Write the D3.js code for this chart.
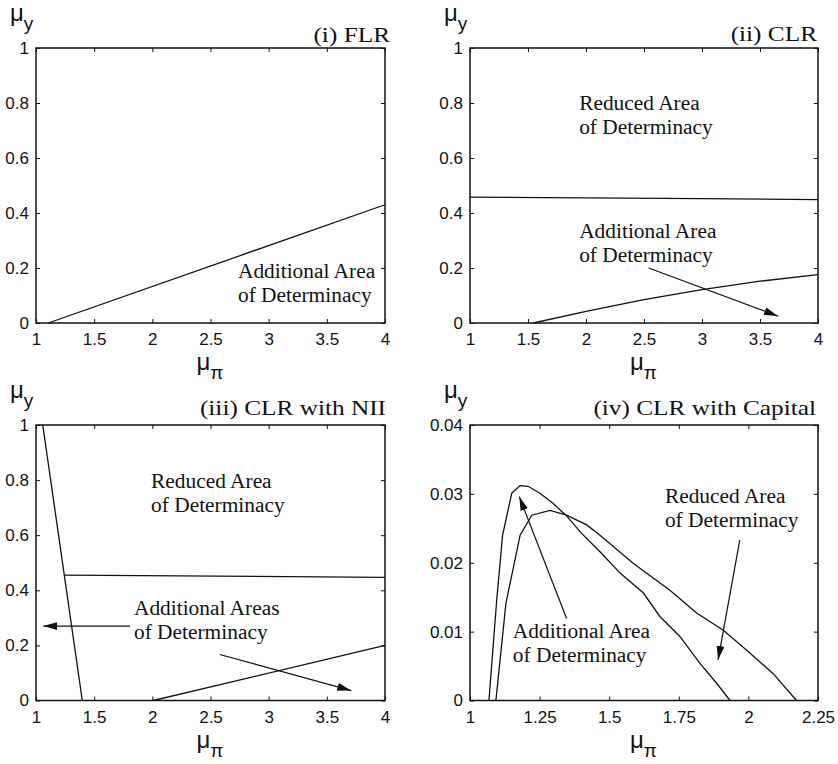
<!DOCTYPE html>
<html>
<head>
<meta charset="utf-8">
<script src="https://d3js.org/d3.v7.min.js"></script>
<style>
  body { margin: 0; background: #fff; }
  .tick text { font-family: "Liberation Sans", Arial, sans-serif; font-size: 17px; fill: #111; }
  .tick line { stroke: #111; stroke-width: 1; }
  .serif { font-family: "Liberation Serif", "Times New Roman", serif; fill: #111; }
  .sym { font-family: "Liberation Sans", Arial, sans-serif; fill: #111; }
</style>
</head>
<body>
<div id="chart"></div>
<script>
// ticks
var xTicksMain = [1, 1.5, 2, 2.5, 3, 3.5, 4];
var yTicksMain = [0, 0.2, 0.4, 0.6, 0.8, 1];
var xTicksCap = [1, 1.25, 1.5, 1.75, 2, 2.25];
var yTicksCap = [0, 0.01, 0.02, 0.03, 0.04];

// (i) FLR boundary
var flrLine = [[1.106, 0], [4, 0.43]];

// (ii) CLR boundaries
var clrUpper = [[1, 0.458], [2, 0.455], [3, 0.452], [4, 0.449]];
var clrLower = [[1.545, 0], [2, 0.042], [2.5, 0.085], [3, 0.121], [3.5, 0.152], [4, 0.176]];

// (iii) CLR with NII boundaries
var niiSteep = [[1.058, 1], [1.398, 0]];
var niiUpper = [[1.24, 0.455], [4, 0.447]];
var niiLower = [[2.008, 0], [4, 0.2]];

// (iv) CLR with Capital boundaries
var capOuter = [[1.068, 0], [1.096, 0.0146], [1.117, 0.024], [1.15, 0.0301], [1.18, 0.0312],
  [1.209, 0.0311], [1.251, 0.0301], [1.299, 0.0286], [1.347, 0.0268], [1.40, 0.0243],
  [1.467, 0.0216], [1.539, 0.0185], [1.623, 0.0156], [1.682, 0.0122], [1.754, 0.0093],
  [1.826, 0.0054], [1.886, 0.0025], [1.934, 0]];
var capInner = [[1.093, 0], [1.129, 0.0141], [1.18, 0.024], [1.222, 0.0269], [1.287, 0.0276],
  [1.347, 0.0269], [1.419, 0.0255], [1.467, 0.024], [1.587, 0.0199], [1.718, 0.016],
  [1.814, 0.0127], [1.91, 0.0102], [1.994, 0.0073], [2.089, 0.0039], [2.173, 0]];

// arrows [x1, y1, x2, y2]
var clrArrows = [[2.54, 0.20, 3.655, 0.025]];
var niiArrows = [[1.808, 0.27, 1.063, 0.27], [2.58, 0.167, 3.71, 0.036]];
var capArrows = [[1.347, 0.0119, 1.177, 0.0296], [1.969, 0.0233, 1.891, 0.0059]];

// annotations [x, y, line1, line2]
var flrNotes = [[2.736, 0.164, "Additional Area", "of Determinacy"]];
var clrNotes = [[1.941, 0.775, "Reduced Area", "of Determinacy"], [1.941, 0.309, "Additional Area", "of Determinacy"]];
var niiNotes = [[1.989, 0.771, "Reduced Area", "of Determinacy"], [1.842, 0.309, "Additional Areas", "of Determinacy"]];
var capNotes = [[1.70, 0.0287, "Reduced Area", "of Determinacy"], [1.154, 0.00907, "Additional Area", "of Determinacy"]];

var titles = ["(i) FLR", "(ii) CLR", "(iii) CLR with NII", "(iv) CLR with Capital"];

var panels = [
  {left: 36, top: 48, w: 349, h: 275, xd: [1, 4], yd: [0, 1], xt: xTicksMain, yt: yTicksMain,
   lines: [flrLine], arrows: [], notes: flrNotes, title: titles[0], titleDx: 5, titleDy: -6},
  {left: 470, top: 48, w: 348, h: 275, xd: [1, 4], yd: [0, 1], xt: xTicksMain, yt: yTicksMain,
   lines: [clrUpper, clrLower], arrows: clrArrows, notes: clrNotes, title: titles[1], titleDx: -1, titleDy: -7},
  {left: 36, top: 425, w: 349, h: 275.5, xd: [1, 4], yd: [0, 1], xt: xTicksMain, yt: yTicksMain,
   lines: [niiSteep, niiUpper, niiLower], arrows: niiArrows, notes: niiNotes, title: titles[2], titleDx: 1, titleDy: -10},
  {left: 470, top: 425, w: 348, h: 275.5, xd: [1, 2.25], yd: [0, 0.04], xt: xTicksCap, yt: yTicksCap,
   lines: [capOuter, capInner], arrows: capArrows, notes: capNotes, title: titles[3], titleDx: -2, titleDy: -10}
];

var svg = d3.select("#chart").append("svg")
    .attr("width", 838)
    .attr("height", 764);

svg.append("defs").append("marker")
    .attr("id", "head")
    .attr("viewBox", "0 0 14 8")
    .attr("refX", 14)
    .attr("refY", 4)
    .attr("markerWidth", 14)
    .attr("markerHeight", 8)
    .attr("markerUnits", "userSpaceOnUse")
    .attr("orient", "auto")
  .append("path")
    .attr("d", "M0,0 L14,4 L0,8 Z")
    .attr("fill", "#111");

panels.forEach(function(p) {
  var g = svg.append("g").attr("transform", "translate(" + p.left + "," + p.top + ")");

  var x = d3.scaleLinear().domain(p.xd).range([0, p.w]);
  var y = d3.scaleLinear().domain(p.yd).range([p.h, 0]);
  var fmt = function(d) { return String(d); };

  // axes with inward ticks
  g.append("g")
      .attr("transform", "translate(0," + p.h + ")")
      .call(d3.axisBottom(x).tickValues(p.xt).tickSize(-4).tickPadding(10).tickFormat(fmt));
  g.append("g")
      .call(d3.axisLeft(y).tickValues(p.yt).tickSize(-4).tickPadding(7).tickFormat(fmt));
  g.append("g")
      .call(d3.axisTop(x).tickValues(p.xt).tickSize(-4).tickFormat(""));
  g.append("g")
      .attr("transform", "translate(" + p.w + ",0)")
      .call(d3.axisRight(y).tickValues(p.yt).tickSize(-4).tickFormat(""));
  g.selectAll(".domain").remove();

  g.append("rect")
      .attr("width", p.w)
      .attr("height", p.h)
      .attr("fill", "none")
      .attr("stroke", "#111")
      .attr("stroke-width", 1.5);

  var line = d3.line().x(function(d) { return x(d[0]); }).y(function(d) { return y(d[1]); });

  g.selectAll(".bound")
    .data(p.lines)
    .enter()
    .append("path")
      .attr("class", "bound")
      .attr("d", line)
      .attr("fill", "none")
      .attr("stroke", "#111")
      .attr("stroke-width", 1.3);

  g.selectAll(".arrow")
    .data(p.arrows)
    .enter()
    .append("line")
      .attr("class", "arrow")
      .attr("x1", function(d) { return x(d[0]); })
      .attr("y1", function(d) { return y(d[1]); })
      .attr("x2", function(d) { return x(d[2]); })
      .attr("y2", function(d) { return y(d[3]); })
      .attr("stroke", "#111")
      .attr("stroke-width", 1.2)
      .attr("marker-end", "url(#head)");

  // annotations, slightly stretched like the original
  var notes = g.selectAll(".note")
    .data(p.notes)
    .enter()
    .append("g")
      .attr("class", "note")
      .attr("transform", function(d) { return "translate(" + x(d[0]) + "," + y(d[1]) + ") scale(1.07,1)"; });
  notes.append("text")
      .attr("class", "serif")
      .style("font-size", "20px")
      .text(function(d) { return d[2]; });
  notes.append("text")
      .attr("class", "serif")
      .attr("y", 24)
      .style("font-size", "20px")
      .text(function(d) { return d[3]; });

  // title
  g.append("g")
      .attr("transform", "translate(" + (p.w + p.titleDx) + "," + p.titleDy + ") scale(1.15,1)")
    .append("text")
      .attr("class", "serif")
      .attr("text-anchor", "end")
      .style("font-size", "22px")
      .text(p.title);

  // y label: mu_y
  var yl = g.append("text")
      .attr("class", "sym")
      .attr("x", -26)
      .attr("y", -27);
  yl.append("tspan").style("font-size", "24px").text("\u03bc");
  yl.append("tspan").style("font-size", "19px").attr("dy", 9).text("y");

  // x label: mu_pi
  var xl = g.append("text")
      .attr("class", "sym")
      .attr("x", p.w / 2 - 14)
      .attr("y", p.h + 47);
  xl.append("tspan").style("font-size", "24px").text("\u03bc");
  xl.append("tspan").style("font-size", "19px").attr("dy", 9).text("\u03c0");
});
</script>
</body>
</html>
